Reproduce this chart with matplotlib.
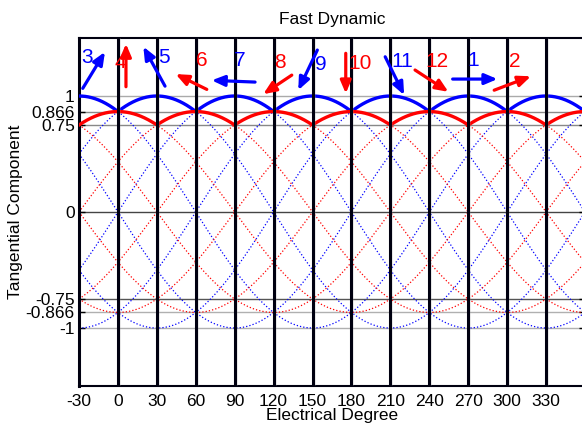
import numpy as np
import matplotlib
matplotlib.use("Agg")
import matplotlib.pyplot as plt

# ---- data ----
blue_amplitude = 1.0
red_amplitude = 0.866
blue_phases = [30, 90, 150, 210, 270, 330]      # degrees of each blue cosine peak
red_phases = [0, 60, 120, 180, 240, 300]        # degrees of each red cosine peak
x_ticks = [-30, 0, 30, 60, 90, 120, 150, 180, 210, 240, 270, 300, 330]
y_ticks = [-1, -0.866, -0.75, 0, 0.75, 0.866, 1]
y_tick_labels = ["-1", "-0.866", "-0.75", "0", "0.75", "0.866", "1"]
step_labels = ["1", "2", "3", "4", "5", "6", "7", "8", "9", "10", "11", "12"]
step_label_x = [274, 306, -24, 2, 35.5, 64.6, 94, 125, 156, 187, 219, 246]
step_label_y = [1.31, 1.30, 1.33, 1.29, 1.33, 1.31, 1.31, 1.29, 1.27, 1.28, 1.295, 1.295]
arrow_x0 = [258, 290, -27.1, 6.2, 36.3, 68.5, 105.7, 134, 153.7, 175.6, 206, 229]
arrow_y0 = [1.146, 1.05, 1.066, 1.08, 1.085, 1.057, 1.12, 1.18, 1.396, 1.368, 1.338, 1.224]
arrow_x1 = [292.5, 318.3, -10, 6.2, 19.6, 44.5, 72.3, 112, 139, 175.6, 220.6, 254.7]
arrow_y1 = [1.146, 1.17, 1.38, 1.45, 1.425, 1.189, 1.135, 1.016, 1.05, 1.022, 1.008, 1.036]

plt.rcParams['font.family'] = ['Liberation Sans', 'DejaVu Sans']

W, H = 582, 423
fig = plt.figure(figsize=(W / 100, H / 100), dpi=100)
left, right, top, bottom = 79, 585, 38, 386
ax = fig.add_axes([left / W, 1 - bottom / H, (right - left) / W, (bottom - top) / H])

x = np.linspace(-30, 360, 1000)
blue_curves = [blue_amplitude * np.cos(np.radians(x - p)) for p in blue_phases]
red_curves = [red_amplitude * np.cos(np.radians(x - p)) for p in red_phases]

# horizontal reference lines
hl_colors = {1: '#aaaaaa', 0.866: '#8a8a8a', 0.75: '#888888', 0: '#444444',
             -0.75: '#555555', -0.866: '#b0b0b0', -1: '#b0b0b0'}
for yv in y_ticks:
    ax.axhline(yv, color=hl_colors[yv], lw=1.0, zorder=1)

for c in blue_curves:
    ax.plot(x, c, color='#0000ff', lw=0.9, ls=':', zorder=2)
for c in red_curves:
    ax.plot(x, c, color='#ff0000', lw=0.9, ls=':', zorder=2)

ax.plot(x, np.max(blue_curves, axis=0), color='#0000ff', lw=2.4, zorder=3)
ax.plot(x, np.max(red_curves, axis=0), color='#ff0000', lw=2.4, zorder=3)

for xv in x_ticks[1:]:
    ax.axvline(xv + 0.8, color='#aaaaaa', lw=1.0, zorder=3.5)
    ax.axvline(xv, color='#000010', lw=2.2, zorder=4)

for i, lab in enumerate(step_labels):
    col = '#0000ff' if i % 2 == 0 else '#ff0000'
    ax.text(step_label_x[i], step_label_y[i], lab, color=col, fontsize=15,
            ha='center', va='center', zorder=6)
    ax.annotate('', xy=(arrow_x1[i], arrow_y1[i]), xytext=(arrow_x0[i], arrow_y0[i]),
                arrowprops=dict(arrowstyle='-|>,head_length=0.75,head_width=0.32',
                                color=col, lw=2.3, shrinkA=0, shrinkB=0), zorder=6)

ax.set_xlim(-30, 360)
ax.set_ylim(-1.5, 1.5)
ax.set_xticks(x_ticks)
ax.set_xticklabels([str(v) for v in x_ticks], fontsize=12.5)
ax.set_yticks(y_ticks)
ax.set_yticklabels(y_tick_labels, fontsize=12.5)
ax.tick_params(axis='x', direction='in', length=4, width=1, pad=6)
ax.tick_params(axis='y', direction='in', length=4, width=1, right=True, pad=3)
for s in ax.spines.values():
    s.set_linewidth(1.5)
    s.set_color('#000010')
ax.spines['left'].set_linewidth(2.2)

ax.set_title('Fast Dynamic', fontsize=12.5, pad=10)
ax.set_xlabel('Electrical Degree', fontsize=12.5, labelpad=-1)
ax.set_ylabel('Tangential Component', fontsize=12.5, labelpad=2)

fig.savefig('out.png', dpi=100)
